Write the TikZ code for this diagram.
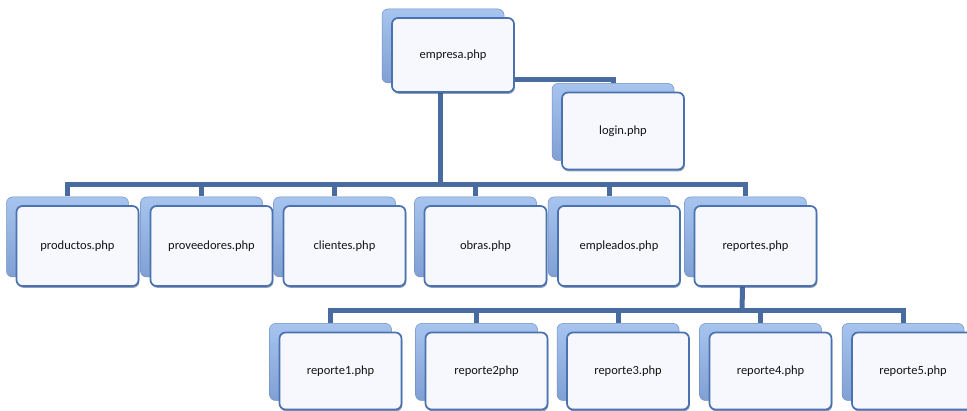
\documentclass[tikz,border=0pt]{standalone}
\usepackage{fontspec}
\setmainfont{Carlito}
\usetikzlibrary{shadows,backgrounds,calc}

\definecolor{busblue}{RGB}{72,108,160}
\definecolor{boxedge}{RGB}{74,114,176}
\definecolor{boxfill}{RGB}{246,248,253}
\definecolor{backtop}{RGB}{166,196,238}
\definecolor{backbot}{RGB}{128,160,212}

\begin{document}
\begin{tikzpicture}[x=1pt,y=-1pt,
  page/.style={draw=boxedge, line width=1.7pt, fill=boxfill, rounded corners=6pt,
    minimum width=122pt, minimum height=80pt, inner sep=0pt,
    font=\fontsize{12.5}{14}\selectfont, text=black!92,
    copy shadow={shadow xshift=-10pt, shadow yshift=9pt, top color=backtop,
      bottom color=backbot, draw=backbot!90!black, line width=0.5pt},
    copy shadow={shadow xshift=0.8pt, shadow yshift=-1.8pt, fill=boxedge!70!black,
      draw=none, opacity=0.55}},
  link/.style={draw=busblue, line width=5pt}]
\useasboundingbox (0,0) rectangle (967,411);
\clip (0,0) rectangle (967,411);

% top level
\node[page, minimum height=74pt] (empresa) at (453,55) {empresa.php};
\node[page, minimum height=77pt] (login) at (623,131) {login.php};

% second level
\node[page] (prod) at (77.5,246) {productos.php};
\node[page] (prov) at (211.5,246) {proveedores.php};
\node[page] (cli)  at (344.5,246) {clientes.php};
\node[page] (obr)  at (485.5,246) {obras.php};
\node[page] (emp)  at (619,246) {empleados.php};
\node[page] (rep)  at (755.5,246) {reportes.php};

% third level
\node[page, minimum height=77pt] (r1) at (340.5,371) {reporte1.php};
\node[page, minimum height=77pt] (r2) at (486.5,371) {reporte2php};
\node[page, minimum height=77pt] (r3) at (628,371) {reporte3.php};
\node[page, minimum height=77pt] (r4) at (770.5,371) {reporte4.php};
\node[page, minimum height=77pt] (r5) at (913,371) {reporte5.php};

% top-centre of each back card, where the connectors land
\foreach \n in {login,prod,prov,cli,obr,emp,rep,r1,r2,r3,r4,r5}
  \coordinate (\n-t) at ($(\n.north)+(-10pt,9pt)$);
\coordinate (hub1) at (440,185);
\coordinate (hub2) at (742,311);
\coordinate (emp-r) at ($(empresa.east)+(0pt,-25pt)$);

\begin{scope}[on background layer]
  % empresa -> login
  \draw[link] (emp-r) -| (login-t);
  % empresa -> second level
  \draw[link] ($(empresa.south)+(-13pt,0pt)$) -- (hub1);
  \draw[link] (prod-t) |- (hub1) -| (rep-t);
  \foreach \n in {prov,cli,obr,emp}
    \draw[link] (\n-t) -- (\n-t |- hub1);
  % reportes -> third level
  \draw[link] ($(rep.south)+(-13pt,0pt)$) -- (hub2);
  \draw[link] (r1-t) |- (hub2) -| (r5-t);
  \foreach \n in {r2,r3,r4}
    \draw[link] (\n-t) -- (\n-t |- hub2);
\end{scope}
\end{tikzpicture}
\end{document}
